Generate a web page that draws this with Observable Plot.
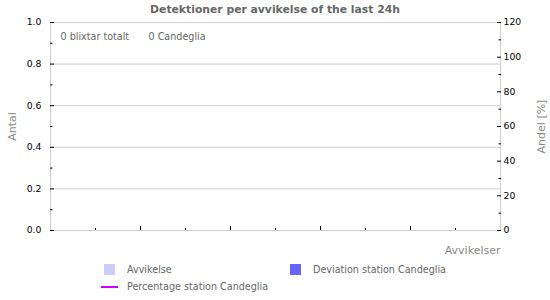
<!DOCTYPE html>
<html>
<head>
<meta charset="utf-8">
<script src="https://cdn.jsdelivr.net/npm/d3@7"></script>
<script src="https://cdn.jsdelivr.net/npm/@observablehq/plot@0.6"></script>
<style>
  html, body { margin: 0; padding: 0; background: #fff; }
  #wrap { position: relative; width: 550px; height: 300px; font-family: "DejaVu Sans", sans-serif; }
  #title { position: absolute; top: 3px; left: 0; width: 550px; text-align: center; font-weight: bold; font-size: 10.8px; color: #666; line-height: 14px; }
  #chart { position: absolute; top: 0; left: 0; }
  .lg { position: absolute; font-size: 9.6px; color: #666; line-height: 12px; white-space: nowrap; }
  .sw { position: absolute; width: 11px; height: 11px; }
  .ln { position: absolute; width: 17px; height: 2px; }
</style>
</head>
<body>
<div id="wrap">
  <div id="chart"></div>
  <div id="title"></div>
  <div id="legend"></div>
</div>
<script>
// ---- data (no detections in the last 24h) ----
const deviationCategories = [];          // Avvikelser (x positions)
const countAll = [];                     // Avvikelse (all strokes)
const countStation = [];                 // Deviation station Candeglia
const percentStation = [];               // Percentage station Candeglia [%]

const titleText = "Detektioner per avvikelse of the last 24h";
const totalLabel = "0 blixtar totalt";
const stationLabel = "0 Candeglia";
const leftTicks = [0, 0.2, 0.4, 0.6, 0.8, 1.0];
const leftMinorTicks = [0.1, 0.3, 0.5, 0.7, 0.9];
const rightTicks = [0, 20, 40, 60, 80, 100, 120];
const rightMinorTicks = [10, 30, 50, 70, 90, 110];
const rightMax = 120;
const xMajorTicks = [2, 4, 6, 8];
const xMinorTicks = [1, 3, 5, 7, 9];
const xDomain = [0, 10];
const legendItems = [
  {label: "Avvikelse", color: "#ccccff", kind: "swatch"},
  {label: "Deviation station Candeglia", color: "#6666ff", kind: "swatch"},
  {label: "Percentage station Candeglia", color: "#cc00ff", kind: "line"}
];

const barsAll = deviationCategories.map((c, i) => ({x: c, v: countAll[i]}));
const barsStation = deviationCategories.map((c, i) => ({x: c, v: countStation[i]}));
const pctLine = deviationCategories.map((c, i) => ({x: c, v: percentStation[i] / rightMax}));

document.getElementById("title").textContent = titleText;

const chart = Plot.plot({
  width: 550,
  height: 262,
  marginTop: 22,
  marginBottom: 32,
  marginLeft: 50,
  marginRight: 50,
  style: {fontFamily: "DejaVu Sans, sans-serif", fontSize: "9.3px", color: "#000", background: "transparent", overflow: "visible"},
  x: {domain: xDomain, axis: null},
  y: {domain: [0, 1], axis: null},
  marks: [
    Plot.gridY(leftTicks.filter(t => t > 0 && t < 1), {stroke: "#ccc", strokeOpacity: 1}),
    Plot.rectY(barsAll, {x1: d => d.x - 0.4, x2: d => d.x + 0.4, y: "v", fill: "#ccccff"}),
    Plot.rectY(barsStation, {x1: d => d.x - 0.4, x2: d => d.x + 0.4, y: "v", fill: "#6666ff"}),
    Plot.lineY(pctLine, {x: "x", y: "v", stroke: "#cc00ff", strokeWidth: 2}),
    Plot.frame({stroke: "#ccc"}),
    // left axis
    Plot.axisY(leftTicks, {anchor: "left", tickSize: -4, tickPadding: 13, tickFormat: d3.format(".1f"), label: null}),
    Plot.axisY(leftMinorTicks, {anchor: "left", tickSize: -2.5, tickFormat: () => "", label: null}),
    // right axis (percent)
    Plot.axisY(rightTicks.map(v => v / rightMax), {anchor: "right", tickSize: -4, tickPadding: 7, tickFormat: d => String(Math.round(d * rightMax)), label: null}),
    Plot.axisY(rightMinorTicks.map(v => v / rightMax), {anchor: "right", tickSize: -2.5, tickFormat: () => "", label: null}),
    // bottom axis
    Plot.axisX(xMajorTicks, {anchor: "bottom", tickSize: -4, tickFormat: () => "", label: null}),
    Plot.axisX(xMinorTicks, {anchor: "bottom", tickSize: -2, tickFormat: () => "", label: null}),
    // axis titles
    Plot.text(["Antal"], {frameAnchor: "left", dx: -38, rotate: -90, fill: "#888", fontSize: 11, textAnchor: "middle"}),
    Plot.text(["Andel [%]"], {frameAnchor: "right", dx: 41, rotate: -90, fill: "#888", fontSize: 11, textAnchor: "middle"}),
    Plot.text(["Avvikelser"], {frameAnchor: "bottom-right", dy: 23, fill: "#888", fontSize: 11, textAnchor: "end"}),
    // annotations
    Plot.text([totalLabel], {frameAnchor: "top-left", dx: 10, dy: 11, fill: "#666", fontSize: 9.6, textAnchor: "start"}),
    Plot.text([stationLabel], {frameAnchor: "top-left", dx: 98, dy: 11, fill: "#666", fontSize: 9.6, textAnchor: "start"})
  ]
});
document.getElementById("chart").appendChild(chart);

// legend
const lg = document.getElementById("legend");
const pos = [
  {sx: 104, sy: 264, tx: 127, ty: 264},
  {sx: 290, sy: 264, tx: 313, ty: 264},
  {sx: 101, sy: 286, tx: 127, ty: 281}
];
legendItems.forEach((it, i) => {
  const p = pos[i];
  const s = document.createElement("div");
  s.className = it.kind === "line" ? "ln" : "sw";
  s.style.left = p.sx + "px"; s.style.top = p.sy + "px"; s.style.background = it.color;
  lg.appendChild(s);
  const t = document.createElement("div");
  t.className = "lg";
  t.style.left = p.tx + "px"; t.style.top = p.ty + "px";
  t.textContent = it.label;
  lg.appendChild(t);
});
</script>
</body>
</html>
